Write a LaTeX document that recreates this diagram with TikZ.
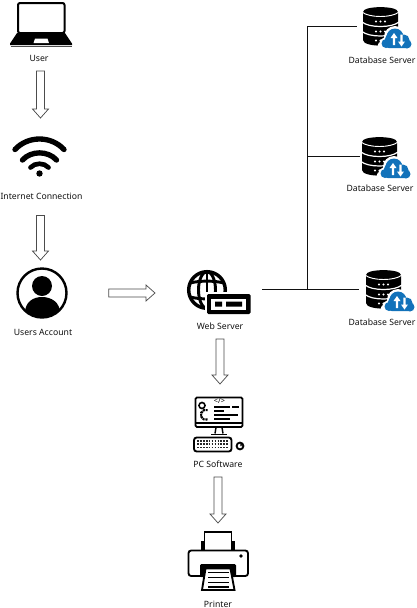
\documentclass[tikz,border=0pt]{standalone}
\usepackage{fontspec}
\setmainfont{Noto Sans}
\usetikzlibrary{calc,fit}
\definecolor{cloudblue}{HTML}{1272BA}
\definecolor{inkc}{HTML}{111111}
\def\sw{3pt}\def\hw{6pt}\def\hl{6.75pt}
\tikzset{
 x=0.75pt,y=-0.75pt,
 area/.style={inner sep=0pt,outer sep=0pt},
 lbl/.style={inner sep=0pt,font=\fontsize{6.5pt}{7.5pt}\selectfont,text=inkc},
 wire/.style={draw=inkc,line width=0.65pt},
 blockarrow/.style={draw=black!70,line width=0.55pt,fill=white,line join=miter,
  to path={($(\tikztostart)!\sw!90:(\tikztotarget)$)
   -- ($(\tikztotarget)!\hl!(\tikztostart)!\sw!90:(\tikztotarget)$)
   -- ($(\tikztotarget)!\hl!(\tikztostart)!\hw!90:(\tikztotarget)$)
   -- (\tikztotarget)
   -- ($(\tikztotarget)!\hl!(\tikztostart)!\hw!-90:(\tikztotarget)$)
   -- ($(\tikztotarget)!\hl!(\tikztostart)!\sw!-90:(\tikztotarget)$)
   -- ($(\tikztostart)!\sw!-90:(\tikztotarget)$) -- cycle}},
 dbicon/.pic={
  \fill[black] (0,5) .. controls (0,-1.5) and (35,-1.5) .. (35,5) -- (35,33) .. controls (35,40.5) and (0,40.5) .. (0,33) -- cycle;
  \draw[white,line width=0.7pt] (-1,5) .. controls (6,11) and (29,11) .. (36,5);
  \draw[white,line width=0.9pt] (-1,15) .. controls (6,21) and (29,21) .. (36,15);
  \draw[white,line width=0.9pt] (-1,24.5) .. controls (6,30.5) and (29,30.5) .. (36,24.5);
  \foreach \yy in {14.5,24.5,33.5}{\foreach \xx in {13,17.5,22}{\fill[white] (\xx,\yy) circle (1.2);}}
  \fill[white] (19,39) circle (4.5) (24,38) circle (8) (32,30) circle (11) (42,33) circle (9) (44,38) circle (7);
  \fill[cloudblue,rounded corners=2] (21,36) -- (46,36) -- (46,41) -- (23,41) -- cycle;
  \fill[cloudblue] (23,36.5) circle (4.5) (27,32) circle (5) (32,30) circle (8.5) (41,33) circle (5.5) (44,37) circle (4.5);
  \fill[white] (31,26) -- (34.5,31) -- (32.2,31) -- (32.2,38) -- (29.8,38) -- (29.8,31) -- (27.5,31) -- cycle;
  \fill[white] (38.5,39.5) -- (42,34.5) -- (39.7,34.5) -- (39.7,27.5) -- (37.3,27.5) -- (37.3,34.5) -- (35,34.5) -- cycle;
 }
}
\begin{document}
\begin{tikzpicture}
\useasboundingbox (0,0) rectangle (417,608);
\fill[white] (0,0) rectangle (417,608);

% laptop
\draw[black,line width=1.5pt,rounded corners=1.5,fill=white] (18,3) rectangle (64.5,33);
\fill[black] (17,33) -- (65,33) -- (72,43.5) -- (72,45) -- (10,45) -- (10,43.5) -- cycle;
\fill[white] (35,38.5) -- (47.5,38.5) -- (49,43) -- (33.5,43) -- cycle;
\draw[black!70,line width=0.4pt] (10.5,46) -- (71.5,46);
\node[area,fit={(8,2)(73,46)}] (user) {};
\node[lbl] (userl) at (39,58) {User};

% wifi
\draw[black,line width=4pt,line cap=round] (15,149.5) .. controls (28,135.5) and (51,135.5) .. (64,149.5);
\draw[black,line width=4pt,line cap=round] (22.5,160) .. controls (31,150.5) and (48,150.5) .. (56.5,160);
\draw[black,line width=3.5pt,line cap=round] (30.5,167.5) .. controls (35,162.5) and (44,162.5) .. (48.5,167.5);
\fill[black] (39.5,173.5) circle (3.2);
\node[area,fit={(13,136)(68,177)}] (wifi) {};
\node[lbl] (wifil) at (41.5,196) {Internet Connection};

% users account
\begin{scope}
 \clip (42,293) circle (24);
 \fill[black] (25,318) -- (25,313) .. controls (25,302) and (33,297) .. (42,297) .. controls (51,297) and (60,302) .. (60,313) -- (60,318) -- cycle;
\end{scope}
\fill[black] (42,286) circle (10);
\draw[black,line width=1.8pt] (42,293) circle (24.5);
\node[area,fit={(15,267)(66,319)}] (acct) {};
\node[lbl] (acctl) at (43,332) {Users Account};

% web server
\draw[black,line width=2.6pt] (207,290) circle (18.3);
\draw[black,line width=2.2pt] (207,290) ellipse (8.5 and 18.3);
\draw[black,line width=2.2pt] (207,272) -- (207,308);
\draw[black,line width=2.2pt] (190,283) .. controls (200,280.5) and (214,280.5) .. (224,283);
\draw[black,line width=2.2pt] (190,297) .. controls (200,299.5) and (214,299.5) .. (224,297);
\fill[white] (204.5,291.5) rectangle (252.5,316);
\fill[black,rounded corners=1] (207,294) rectangle (250.5,314);
\fill[white] (211,299) rectangle (246,310);
\fill[black] (215,301.5) rectangle (222,306.5) (226,301.5) rectangle (242,306.5);
\node[area,fit={(187,270)(253,315)}] (web) {};
\node[lbl] (webl) at (220,326) {Web Server};

% database servers
\node[area,fit={(363,7)(398,46)}] (db1) {};
\pic at (363,7) {dbicon};
\node[lbl] (db1l) at (382,60) {Database Server};
\node[area,fit={(362,137)(397,176)}] (db2) {};
\pic at (362,137) {dbicon};
\node[lbl] (db2l) at (380,188) {Database Server};
\node[area,fit={(366,270)(401,309)}] (db3) {};
\pic at (366,270) {dbicon};
\node[lbl] (db3l) at (382,322) {Database Server};

% pc software
\draw[black,line width=1.4pt,rounded corners=1] (195.5,397.5) rectangle (242.5,427);
\draw[black,line width=1.1pt] (195.5,423) -- (242.5,423);
\draw[black,line width=1.1pt] (216,427.5) -- (215,433.5) (222,427.5) -- (223,433.5);
\draw[black,line width=1.3pt] (211,434.5) -- (227,434.5);
\node[inner sep=0pt,font=\bfseries\fontsize{5.5pt}{6pt}\selectfont] (code) at (219.5,400.5) {</>};
\draw[black,line width=1.2pt] (202,405.5) circle (3);
\draw[black,line width=1.6pt,dash pattern=on 1.6pt off 0.5pt] (207.5,419.5) arc (70:290:5);
\foreach \yy/\xa/\xb in {407/214/230,411/214/224,415/214/238,419/214/230}{\draw[black,line width=0.9pt] (\xa,\yy) -- (\xb,\yy);}
\draw[black,line width=1pt] (232,407) -- (239,407);
\draw[black,line width=1.4pt,rounded corners=2] (194,437.5) rectangle (231.5,451.5);
\foreach \yy in {441,444,447.5}{\draw[black!85,line width=1.1pt,dash pattern=on 1.3pt off 0.9pt] (197,\yy) -- (229,\yy);}
\draw[black,line width=1.4pt] (240,446) circle (3.4);
\fill[black] (240,444.5) -- (242.5,444) -- (241,446.5) -- cycle;
\node[area,fit={(193,397)(247,452)}] (pc) {};
\node[lbl] (pcl) at (218,464) {PC Software};

% printer
\fill[black] (201,541) rectangle (235,552);
\draw[black,line width=1.2pt,fill=white] (204.5,532) rectangle (231.5,552);
\draw[black,line width=1.4pt,rounded corners=2,fill=white] (188.5,550.5) rectangle (248,576);
\fill[black] (241,556) circle (1.9);
\fill[black,rounded corners=1] (200,564) rectangle (236,577);
\draw[black,line width=1.4pt,fill=white] (205.5,568.5) -- (230.5,568.5) -- (234.5,590) -- (202,590) -- cycle;
\foreach \yy in {572.5,577.5,582.5,587}{\draw[black,line width=1pt] (208,\yy) -- (229,\yy);}
\node[area,fit={(188,532)(248,591)}] (printer) {};
\node[lbl] (printerl) at (218,604) {Printer};

% block arrows
\draw[blockarrow] ([xshift=1.125pt,yshift=-7.2pt]userl.south) to ([yshift=13.5pt]wifi.north);
\draw[blockarrow] ([xshift=-0.75pt,yshift=-12pt]wifil.south) to ([yshift=5.25pt]acct.north);
\draw[blockarrow] ([xshift=32pt]acct.east) to ([xshift=-24pt,yshift=-0.375pt]web.west);
\draw[blockarrow] ([yshift=-18pt]web.south) to ([yshift=9.75pt]pc.north);
\draw[blockarrow] ([xshift=-1.5pt,yshift=-18.75pt]pc.south) to ([yshift=6.75pt]printer.north);

% wires
\coordinate (bustop) at (307,26);
\coordinate (busmid) at (307,156);
\coordinate (busbot) at (307,289.5);
\draw[wire] ([xshift=6.75pt]web.east |- busbot) -- ([xshift=-5.25pt]db3.west |- busbot);
\draw[wire] (bustop) -- (busbot);
\draw[wire] (bustop) -- ([xshift=-4.5pt]db1.west |- bustop);
\draw[wire] (busmid) -- ([xshift=-1.5pt]db2.west |- busmid);
\end{tikzpicture}
\end{document}
